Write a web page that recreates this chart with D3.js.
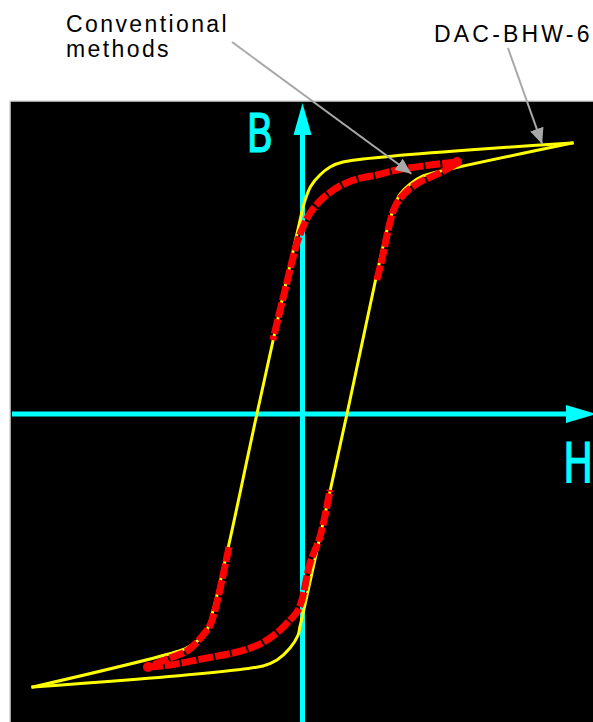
<!DOCTYPE html>
<html>
<head>
<meta charset="utf-8">
<script src="https://cdn.jsdelivr.net/npm/d3@7"></script>
<style>
  html, body { margin: 0; padding: 0; background: #fff; }
  svg { display: block; }
</style>
</head>
<body>
<div id="loop"></div>
<script>
// DAC-BHW-6 loop, upper (descending) and lower (ascending) branches: [H, B]
const dacUpper = [
  [92.8, 1.737], [13.9, 1.615], [9.5, 1.583], [6.0, 1.532], [2.9, 1.462],
  [0.9, 1.372], [-0.2, 1.295], [-15.7, 0], [-26.0, -0.891], [-31.2, -1.288],
  [-32.9, -1.385], [-35.3, -1.442], [-38.7, -1.487], [-41.5, -1.513], [-92.8, -1.750]
];
const dacLower = [
  [-92.8, -1.750], [-13.6, -1.615], [-8.8, -1.577], [-4.3, -1.500], [-1.5, -1.417],
  [-0.9, -1.365], [0.2, -1.276], [15.3, 0], [25.0, 0.846], [29.1, 1.179],
  [31.8, 1.340], [33.6, 1.410], [37.0, 1.474], [41.5, 1.526], [46.3, 1.551], [92.8, 1.737]
];

// conventional method loop (null = no data in that stretch)
const convUpper = [
  [53.2, 1.615], [43.9, 1.596], [32.5, 1.564], [25.6, 1.532], [18.8, 1.506],
  [12.9, 1.462], [7.1, 1.385], [2.6, 1.288], [0.2, 1.199], [-1.9, 1.096],
  [-6.0, 0.795], [-10.2, 0.474], null,
  [-25.3, -0.853], [-27.7, -1.064], [-30.1, -1.256], [-31.8, -1.353], [-33.9, -1.410],
  [-36.3, -1.462], [-39.8, -1.519], [-45.6, -1.564], [-53.2, -1.622]
];
const convLower = [
  [-53.2, -1.622], [-45.6, -1.609], [-32.9, -1.564], [-23.9, -1.532], [-17.0, -1.494],
  [-12.2, -1.449], [-7.7, -1.385], [-4.3, -1.321], [-1.9, -1.269], [-0.2, -1.192],
  [2.6, -0.955], [6.0, -0.788], [9.5, -0.487], null,
  [25.6, 0.859], [27.7, 1.019], [29.1, 1.147], [31.8, 1.327], [35.3, 1.417],
  [40.4, 1.487], [47.3, 1.545], [53.2, 1.609]
];

const hDomain = [-100, 100];
const bDomain = [-2, 2];

const width = 593, height = 722;
const svg = d3.select("#loop").append("svg")
  .attr("width", width).attr("height", height);

const x = d3.scaleLinear().domain(hDomain).range([12, 593]);
const y = d3.scaleLinear().domain(bDomain).range([726, 102]);

// plot background
svg.append("rect")
  .attr("x", 10).attr("y", 101)
  .attr("width", width - 10 + 2).attr("height", height - 101 + 2)
  .attr("fill", "#000")
  .attr("stroke", "#d8d8d8").attr("stroke-width", 1.5);

// axes
const cyan = "#00ffff";
svg.append("line")
  .attr("x1", x(hDomain[0])).attr("x2", x(hDomain[1]) - 20)
  .attr("y1", y(0)).attr("y2", y(0))
  .attr("stroke", cyan).attr("stroke-width", 5);
svg.append("line")
  .attr("x1", x(0)).attr("x2", x(0))
  .attr("y1", y(bDomain[0])).attr("y2", y(bDomain[1]) + 20)
  .attr("stroke", cyan).attr("stroke-width", 5);
svg.append("path")
  .attr("d", `M${x(0)},${y(bDomain[1]) + 1} L${x(0) - 9},${y(bDomain[1]) + 33} L${x(0) + 9},${y(bDomain[1]) + 33}Z`)
  .attr("fill", cyan);
svg.append("path")
  .attr("d", `M${x(hDomain[1]) + 3},${y(0)} L${x(hDomain[1]) - 27},${y(0) - 9} L${x(hDomain[1]) - 27},${y(0) + 9}Z`)
  .attr("fill", cyan);

svg.append("text")
  .attr("transform", `translate(${x(0) - 56},${y(bDomain[1]) + 50}) scale(0.72,1)`)
  .attr("font-family", "DejaVu Sans").attr("font-size", 54)
  .attr("fill", cyan).attr("stroke", cyan).attr("stroke-width", 1.2)
  .text("B");
svg.append("text")
  .attr("transform", `translate(${x(hDomain[1]) - 30},${y(0) + 68}) scale(0.72,1)`)
  .attr("font-family", "DejaVu Sans").attr("font-size", 56)
  .attr("fill", cyan).attr("stroke", cyan).attr("stroke-width", 1.2)
  .text("H");

// curves
const line = d3.line()
  .defined(d => d !== null)
  .x(d => x(d[0])).y(d => y(d[1]))
  .curve(d3.curveCatmullRom.alpha(0.5));

[dacUpper, dacLower].forEach(b => {
  svg.append("path")
    .attr("d", line(b))
    .attr("fill", "none")
    .attr("stroke", "#ffff00")
    .attr("stroke-width", 3)
    .attr("stroke-linejoin", "miter")
    .attr("stroke-linecap", "square");
});

[convUpper, convLower].forEach(b => {
  svg.append("path")
    .attr("d", line(b))
    .attr("fill", "none")
    .attr("stroke", "#ff0000")
    .attr("stroke-width", 7)
    .attr("stroke-dasharray", "15 2");
});
[convUpper[0], convLower[0]].forEach(p => {
  svg.append("circle")
    .attr("cx", x(p[0])).attr("cy", y(p[1])).attr("r", 5)
    .attr("fill", "#ff0000");
});

// annotations
const gray = "#a8a8a8";
svg.append("defs").append("marker")
  .attr("id", "head")
  .attr("viewBox", "0 0 16 14")
  .attr("refX", 16).attr("refY", 7)
  .attr("markerWidth", 16).attr("markerHeight", 14)
  .attr("markerUnits", "userSpaceOnUse")
  .attr("orient", "auto")
  .append("path").attr("d", "M0,0 L16,7 L0,14Z").attr("fill", gray);

svg.append("line")
  .attr("x1", 232).attr("y1", 42).attr("x2", x(37.5)).attr("y2", y(1.54))
  .attr("stroke", gray).attr("stroke-width", 2)
  .attr("marker-end", "url(#head)");
svg.append("line")
  .attr("x1", 508).attr("y1", 48).attr("x2", x(82.5)).attr("y2", y(1.73))
  .attr("stroke", gray).attr("stroke-width", 2)
  .attr("marker-end", "url(#head)");

const label = svg.append("text")
  .attr("font-family", "Liberation Sans, Arial, sans-serif")
  .attr("font-size", 23).attr("letter-spacing", 2.4).attr("fill", "#000");
label.append("tspan").attr("x", 66).attr("y", 32).text("Conventional");
label.append("tspan").attr("x", 66).attr("y", 57).text("methods");

svg.append("text")
  .attr("x", 434).attr("y", 42)
  .attr("font-family", "Liberation Sans, Arial, sans-serif")
  .attr("font-size", 23).attr("letter-spacing", 3.2).attr("fill", "#000")
  .text("DAC-BHW-6");
</script>
</body>
</html>
